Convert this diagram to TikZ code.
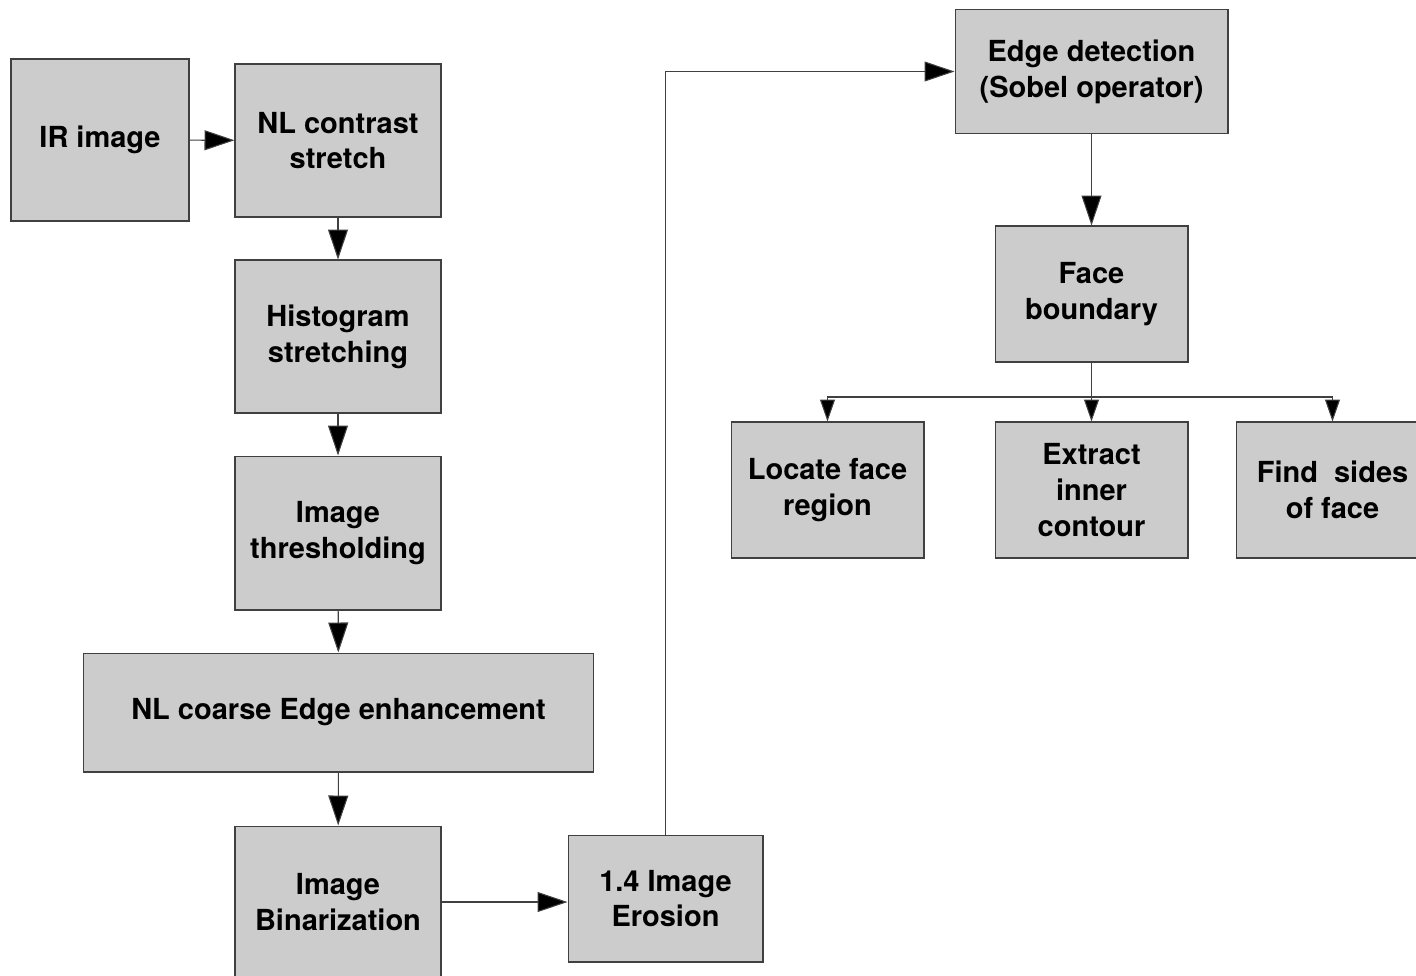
\documentclass[tikz,border=0pt]{standalone}
\usepackage{fontspec}
\setmainfont{TeX Gyre Heros}
\usetikzlibrary{arrows.meta}

\tikzset{
    stage/.style={draw=black!75, fill=black!20, line width=0.6pt, align=center,
        inner sep=0pt, font=\bfseries\fontsize{16.5}{20.4}\selectfont},
    flow/.style={draw=black!75, line width=0.6pt, -{Triangle[length=0.6cm,width=0.4cm,fill=black]}},
    branch/.style={draw=black!75, line width=0.6pt, -{Triangle[length=0.44cm,width=0.3cm,fill=black]}}
}

\begin{document}
\begin{tikzpicture}[x=0.02cm, y=-0.02cm]
    \useasboundingbox (0,0) rectangle (1416,975);

    % Preprocessing chain
    \node[stage, minimum width=3.56cm, minimum height=3.24cm] (ir) at (100,140) {IR image};
    \node[stage, minimum width=4.12cm, minimum height=3.06cm] (contrast) at (338,140.5) {NL contrast\\stretch};
    \node[stage, minimum width=4.12cm, minimum height=3.06cm] (hist) at (338,336.5) {Histogram\\stretching};
    \node[stage, minimum width=4.12cm, minimum height=3.08cm] (thresh) at (338,533) {Image\\thresholding};
    \node[stage, minimum width=10.22cm, minimum height=2.38cm] (enhance) at (338.5,712.5) {NL coarse Edge enhancement};
    \node[stage, minimum width=4.12cm, minimum height=3.04cm] (binar) at (338,902) {Image\\Binarization};
    \node[stage, minimum width=3.9cm, minimum height=2.54cm] (erosion) at (665.5,898.5) {1.4 Image\\Erosion};

    % Face localisation
    \node[stage, minimum width=5.46cm, minimum height=2.48cm] (sobel) at (1091.5,71.5) {Edge detection\\(Sobel operator)};
    \node[stage, minimum width=3.86cm, minimum height=2.72cm] (boundary) at (1091.5,294) {Face\\boundary};
    \node[stage, minimum width=3.86cm, minimum height=2.72cm] (locate) at (827.5,490) {Locate face\\region};
    \node[stage, minimum width=3.86cm, minimum height=2.72cm] (contour) at (1091.5,490) {Extract\\inner\\contour};
    \node[stage, minimum width=3.86cm, minimum height=2.72cm] (sides) at (1332.5,490) {Find\ \ sides\\of face};
    \coordinate (split) at (1091.5,397);

    % Connectors
    \draw[flow] (ir) -- (contrast);
    \draw[flow] (contrast) -- (hist);
    \draw[flow] (hist) -- (thresh);
    \draw[flow] (thresh) -- (enhance);
    \draw[flow] (enhance) -- (binar);
    \draw[flow] (binar.east) -- (binar.east -| erosion.west);
    \draw[flow] (erosion.north) |- (sobel.west);
    \draw[flow] (sobel) -- (boundary);

    % Branches
    \draw[draw=black!75, line width=0.6pt] (boundary) -- (split);
    \draw[branch] (split) -| (locate);
    \draw[branch] (split) -- (contour);
    \draw[branch] (split) -| (sides);
\end{tikzpicture}
\end{document}
